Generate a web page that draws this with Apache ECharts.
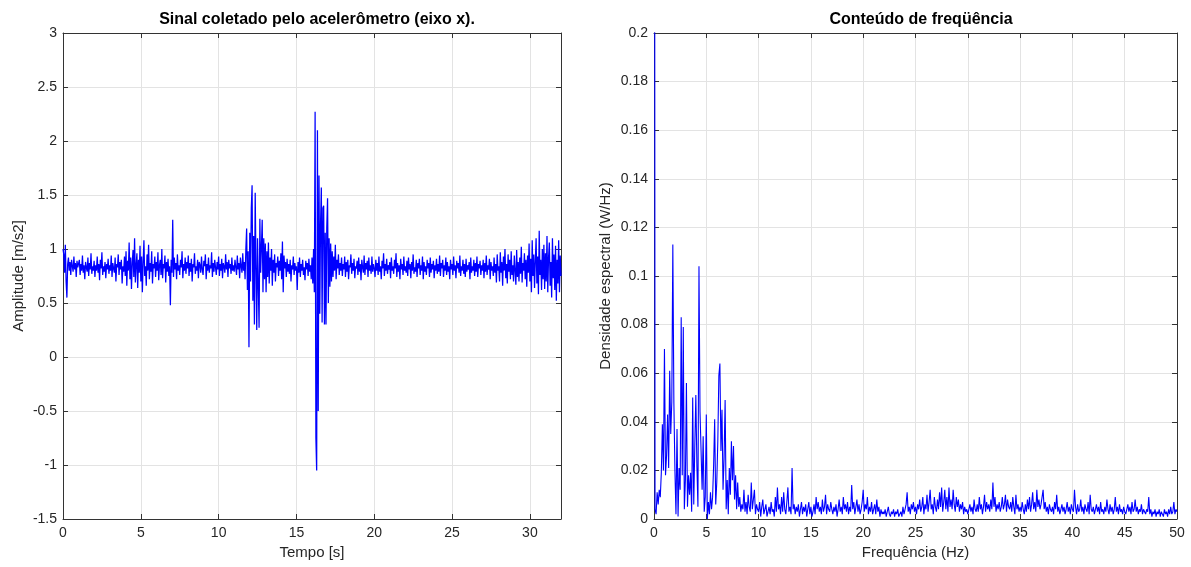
<!DOCTYPE html>
<html>
<head>
<meta charset="utf-8">
<script src="https://cdn.jsdelivr.net/npm/echarts@6/dist/echarts.min.js"></script>
<style>html,body{margin:0;padding:0;background:#fff}#c{width:1191px;height:567px}</style>
</head>
<body>
<div id="c"></div>
<script>
// Time signal: sampled every 0.05 s, rows = one second each (20 samples)
const timeStep = 0.05;
const timeValues = [
1.0,0.95,0.78,1.04,0.7,0.55,0.86,0.92,0.8,0.88,0.76,0.9,0.84,0.79,0.93,0.81,0.87,0.74,0.89,0.83,
0.82,0.9,0.76,0.86,0.8,0.94,0.78,0.85,0.72,0.88,0.83,0.79,0.92,0.75,0.87,0.81,0.96,0.77,0.84,0.8,
0.89,0.74,0.85,0.8,0.93,0.78,0.86,0.71,0.9,0.82,0.97,0.76,0.84,0.79,0.88,0.73,0.86,0.81,0.91,0.77,
0.85,0.8,0.94,0.74,0.87,0.82,0.78,0.92,0.7,0.86,0.83,0.95,0.76,0.88,0.81,0.9,0.68,0.84,0.79,0.93,
0.75,0.98,0.66,0.89,0.8,1.06,0.72,0.92,0.63,0.87,0.99,0.74,1.1,0.69,0.85,0.96,0.64,0.9,0.78,1.03,
0.7,0.93,0.6,0.88,1.08,0.75,0.84,0.66,0.95,0.8,1.04,0.72,0.87,0.79,0.98,0.68,0.86,0.82,0.93,0.74,
0.88,0.8,0.97,0.71,0.85,0.9,0.76,1.0,0.73,0.86,0.82,0.94,0.69,0.88,0.79,0.91,0.75,0.84,0.48,0.9,
0.78,1.27,0.74,0.92,0.81,0.87,0.72,0.95,0.8,0.85,0.76,0.9,0.83,0.98,0.73,0.86,0.8,0.92,0.77,0.88,
0.82,0.94,0.75,0.87,0.79,0.91,0.7,0.86,0.83,0.96,0.77,0.84,0.8,0.9,0.73,0.88,0.85,0.78,0.93,0.81,
0.76,0.89,0.84,0.95,0.72,0.86,0.8,0.92,0.78,0.85,0.82,0.97,0.74,0.87,0.79,0.9,0.83,0.76,0.88,0.81,
0.93,0.75,0.86,0.8,0.91,0.73,0.87,0.84,0.78,0.95,0.81,0.88,0.74,0.9,0.82,0.86,0.77,0.92,0.8,0.85,
0.79,0.9,0.83,0.76,0.94,0.81,0.87,0.73,0.92,0.84,0.78,0.96,0.8,0.88,0.72,1.0,1.19,0.62,0.98,0.09,
1.15,0.7,1.38,1.59,0.52,1.12,0.3,1.52,0.85,0.25,1.1,0.66,0.27,1.28,0.78,1.02,1.27,0.6,1.1,0.72,
1.05,0.6,0.98,0.74,1.06,0.68,0.92,0.8,1.0,0.66,0.9,0.78,0.95,0.7,0.87,0.83,0.93,0.75,0.89,0.8,
0.96,0.72,1.07,0.6,0.94,0.82,0.88,0.74,0.91,0.79,0.86,0.77,0.9,0.7,0.85,0.81,0.93,0.76,0.87,0.8,
0.84,0.62,0.88,0.78,0.92,0.74,0.86,0.8,0.9,0.76,0.83,0.71,0.89,0.81,0.87,0.75,0.91,0.79,0.85,0.72,
0.92,0.68,1.0,0.6,2.27,-0.75,-1.05,2.1,-0.5,1.68,0.4,1.25,1.57,0.32,1.38,1.4,0.3,1.15,0.3,1.2,
1.47,0.5,1.1,0.65,1.05,0.7,0.98,0.74,0.93,0.8,1.04,0.72,0.9,0.82,0.95,0.76,0.87,0.8,0.92,0.75,
0.86,0.81,0.93,0.74,0.88,0.79,0.9,0.72,0.85,0.83,0.95,0.77,0.87,0.8,0.91,0.73,0.84,0.82,0.89,0.76,
0.92,0.79,0.86,0.71,0.9,0.83,0.78,0.94,0.76,0.87,0.81,0.89,0.74,0.92,0.8,0.85,0.77,0.93,0.79,0.86,
0.82,0.74,0.9,0.8,0.87,0.76,0.93,0.79,0.84,0.72,0.89,0.82,0.96,0.75,0.86,0.8,0.91,0.77,0.85,0.81,
0.88,0.73,0.92,0.8,0.84,0.77,0.9,0.82,0.96,0.74,0.87,0.79,0.85,0.72,0.91,0.81,0.86,0.76,0.93,0.8,
0.84,0.78,0.89,0.75,0.92,0.81,0.86,0.73,0.88,0.8,0.95,0.77,0.83,0.79,0.9,0.74,0.87,0.82,0.91,0.76,
0.85,0.8,0.93,0.72,0.88,0.79,0.84,0.76,0.9,0.82,0.87,0.74,0.92,0.78,0.86,0.81,0.89,0.73,0.85,0.8,
0.91,0.77,0.86,0.79,0.94,0.75,0.87,0.82,0.9,0.74,0.85,0.8,0.92,0.76,0.88,0.79,0.84,0.72,0.9,0.81,
0.86,0.76,0.93,0.8,0.85,0.73,0.89,0.82,0.87,0.78,0.94,0.75,0.84,0.8,0.9,0.77,0.86,0.74,0.91,0.79,
0.85,0.81,0.88,0.72,0.92,0.78,0.84,0.8,0.9,0.75,0.87,0.79,0.93,0.74,0.86,0.82,0.89,0.76,0.85,0.8,
0.9,0.73,0.87,0.79,0.94,0.76,0.85,0.81,0.91,0.72,0.88,0.8,0.84,0.75,0.92,0.78,0.86,0.69,0.95,0.8,
0.84,0.7,0.97,0.78,0.88,0.66,0.93,0.8,1.0,0.73,0.86,0.68,0.95,0.79,0.9,0.72,0.98,0.76,0.85,0.7,
0.94,0.8,0.67,0.99,0.74,0.88,0.7,0.92,0.77,1.02,0.69,0.87,0.8,0.96,0.72,0.9,0.65,0.94,0.78,1.05,
0.7,0.91,0.6,1.08,0.75,0.95,0.64,0.89,1.1,0.68,0.93,0.58,1.17,0.76,0.9,0.62,1.0,0.72,1.04,0.63,
0.96,0.7,1.12,0.6,0.92,1.06,0.66,0.88,0.55,1.1,0.73,0.95,0.62,1.03,0.52,0.9,0.68,1.08,0.6,0.94,
0.75
];

// Spectrum: sampled every 0.1 Hz, rows = one Hz each (10 samples)
const freqStep = 0.1;
const psdValues = [
0.7,0.004,0.002,0.011,0.006,0.012,0.009,0.019,0.039,0.02,
0.07,0.018,0.026,0.043,0.021,0.061,0.035,0.048,0.113,0.048,
0.02,0.002,0.037,0.001,0.021,0.012,0.083,0.018,0.079,0.004,
0.016,0.056,0.005,0.018,0.01,0.019,0.003,0.05,0.006,0.03,
0.051,0.022,0.005,0.104,0.044,0.028,0.012,0.034,0.003,0.009,
0.043,0.0,0.007,0.002,0.011,0.004,0.009,0.022,0.041,0.006,
0.015,0.032,0.059,0.064,0.028,0.045,0.012,0.025,0.049,0.004,
0.016,0.002,0.021,0.01,0.032,0.016,0.03,0.008,0.018,0.004,
0.015,0.005,0.009,0.003,0.006,0.004,0.012,0.003,0.007,0.002,
0.01,0.005,0.003,0.015,0.004,0.008,0.012,0.002,0.006,0.004,
0.003,0.007,0.001,0.005,0.008,0.002,0.004,0.006,0.001,0.003,
0.005,0.002,0.007,0.003,0.004,0.001,0.009,0.003,0.013,0.004,
0.006,0.002,0.009,0.003,0.011,0.004,0.002,0.007,0.013,0.003,
0.005,0.002,0.021,0.004,0.006,0.002,0.005,0.003,0.006,0.001,
0.004,0.007,0.002,0.005,0.003,0.006,0.001,0.004,0.007,0.002,
0.005,0.001,0.003,0.006,0.002,0.009,0.004,0.007,0.003,0.005,
0.002,0.008,0.003,0.005,0.01,0.002,0.006,0.004,0.003,0.007,
0.004,0.002,0.005,0.003,0.006,0.001,0.004,0.008,0.003,0.005,
0.002,0.009,0.004,0.006,0.003,0.007,0.002,0.005,0.003,0.014,
0.004,0.007,0.002,0.005,0.008,0.003,0.006,0.002,0.004,0.007,
0.012,0.003,0.006,0.004,0.009,0.002,0.005,0.003,0.007,0.002,
0.004,0.006,0.002,0.008,0.003,0.005,0.001,0.004,0.002,0.003,
0.002,0.004,0.001,0.003,0.005,0.002,0.001,0.003,0.002,0.004,
0.001,0.003,0.002,0.004,0.001,0.002,0.003,0.001,0.005,0.002,
0.004,0.006,0.011,0.003,0.005,0.002,0.006,0.004,0.007,0.003,
0.005,0.002,0.006,0.004,0.008,0.003,0.005,0.009,0.002,0.006,
0.004,0.01,0.003,0.007,0.012,0.004,0.006,0.002,0.009,0.005,
0.003,0.008,0.004,0.011,0.005,0.013,0.003,0.007,0.012,0.004,
0.009,0.003,0.013,0.005,0.008,0.004,0.012,0.006,0.003,0.009,
0.005,0.008,0.003,0.006,0.004,0.007,0.002,0.005,0.003,0.004,
0.002,0.004,0.006,0.003,0.005,0.002,0.008,0.004,0.003,0.006,
0.003,0.009,0.004,0.006,0.002,0.005,0.01,0.003,0.007,0.004,
0.006,0.003,0.008,0.004,0.015,0.005,0.009,0.003,0.006,0.004,
0.007,0.003,0.005,0.009,0.004,0.006,0.01,0.003,0.008,0.005,
0.004,0.007,0.003,0.009,0.005,0.002,0.01,0.004,0.006,0.003,
0.005,0.003,0.007,0.004,0.002,0.006,0.003,0.008,0.004,0.009,
0.003,0.006,0.011,0.004,0.007,0.003,0.012,0.005,0.008,0.004,
0.006,0.009,0.012,0.004,0.007,0.003,0.005,0.002,0.006,0.004,
0.003,0.005,0.002,0.007,0.004,0.01,0.003,0.005,0.002,0.004,
0.006,0.003,0.005,0.002,0.004,0.007,0.003,0.005,0.002,0.006,
0.004,0.003,0.012,0.005,0.002,0.006,0.003,0.004,0.008,0.003,
0.005,0.002,0.006,0.004,0.003,0.007,0.002,0.01,0.004,0.003,
0.005,0.002,0.004,0.006,0.003,0.005,0.002,0.007,0.003,0.004,
0.002,0.005,0.003,0.008,0.004,0.002,0.006,0.003,0.005,0.002,
0.004,0.009,0.003,0.005,0.002,0.006,0.003,0.004,0.002,0.005,
0.003,0.002,0.004,0.006,0.003,0.005,0.002,0.007,0.003,0.004,
0.008,0.003,0.005,0.002,0.004,0.003,0.006,0.002,0.004,0.003,
0.002,0.004,0.003,0.009,0.002,0.004,0.001,0.003,0.002,0.004,
0.001,0.003,0.002,0.004,0.001,0.003,0.002,0.001,0.004,0.002,
0.003,0.001,0.004,0.002,0.005,0.002,0.003,0.007,0.002,0.004,
0.003
];

const titles = ['Sinal coletado pelo acelerômetro (eixo x).', 'Conteúdo de freqüência'];
const xNames = ['Tempo [s]', 'Frequência (Hz)'];
const yNames = ['Amplitude [m/s2]', 'Densidade espectral (W/Hz)'];

const timeData = timeValues.map((v, i) => [+(i * timeStep).toFixed(2), v]);
const psdData = psdValues.map((v, i) => [+(i * freqStep).toFixed(1), v]);

const FONT = 'Liberation Sans, Arial, Helvetica, sans-serif';
const AX = '#333333';
const LBL = '#262626';
const GRIDC = '#e3e3e3';

function mainX(grid, min, max, interval, name) {
  return {
    type: 'value', gridIndex: grid, min, max, interval, position: 'bottom',
    name, nameLocation: 'middle', nameGap: 25,
    nameTextStyle: { fontFamily: FONT, fontSize: 15, color: LBL },
    axisLine: { onZero: false, lineStyle: { color: AX, width: 1 } },
    axisTick: { inside: true, length: 5, lineStyle: { color: AX } },
    axisLabel: { fontFamily: FONT, fontSize: 14, color: LBL, margin: 7,
      formatter: v => (Math.abs(v / interval - Math.round(v / interval)) < 1e-6) ? String(v) : '' },
    splitLine: { show: true, lineStyle: { color: GRIDC, width: 1 } }
  };
}
function boxX(grid, min, max, interval) {
  return {
    type: 'value', gridIndex: grid, min, max, interval, position: 'top',
    axisLine: { onZero: false, lineStyle: { color: AX, width: 1 } },
    axisTick: { inside: true, length: 5, lineStyle: { color: AX } },
    axisLabel: { show: false }, splitLine: { show: false }
  };
}
function mainY(grid, min, max, interval, name, gap) {
  return {
    type: 'value', gridIndex: grid, min, max, interval, position: 'left',
    name, nameLocation: 'middle', nameGap: gap,
    nameTextStyle: { fontFamily: FONT, fontSize: 15, color: LBL },
    axisLine: { show: true, onZero: false, lineStyle: { color: AX, width: 1 } },
    axisTick: { show: true, inside: true, length: 5, lineStyle: { color: AX } },
    axisLabel: { fontFamily: FONT, fontSize: 14, color: LBL, margin: 6 },
    splitLine: { show: true, lineStyle: { color: GRIDC, width: 1 } }
  };
}
function boxY(grid, min, max, interval) {
  return {
    type: 'value', gridIndex: grid, min, max, interval, position: 'right',
    axisLine: { show: true, onZero: false, lineStyle: { color: AX, width: 1 } },
    axisTick: { show: true, inside: true, length: 5, lineStyle: { color: AX } },
    axisLabel: { show: false }, splitLine: { show: false }
  };
}

const chart = echarts.init(document.getElementById('c'), null, { renderer: 'canvas' });
chart.setOption({
  backgroundColor: '#ffffff',
  animation: false,
  title: [
    { text: titles[0], left: 312, top: 7, textAlign: 'center',
      textStyle: { fontFamily: FONT, fontSize: 16, fontWeight: 'bold', color: '#000' } },
    { text: titles[1], left: 916, top: 7, textAlign: 'center',
      textStyle: { fontFamily: FONT, fontSize: 16, fontWeight: 'bold', color: '#000' } }
  ],
  grid: [
    { left: 63, right: 630, top: 33, bottom: 48 },
    { left: 654, right: 14, top: 33, bottom: 48 }
  ],
  xAxis: [
    mainX(0, 0, 32, 5, xNames[0]),
    mainX(1, 0, 50, 5, xNames[1]),
    boxX(0, 0, 32, 5),
    boxX(1, 0, 50, 5)
  ],
  yAxis: [
    mainY(0, -1.5, 3, 0.5, yNames[0], 37),
    mainY(1, 0, 0.2, 0.02, yNames[1], 41),
    boxY(0, -1.5, 3, 0.5),
    boxY(1, 0, 0.2, 0.02)
  ],
  series: [
    { type: 'line', xAxisIndex: 0, yAxisIndex: 0, data: timeData, showSymbol: false,
      symbol: 'none', clip: true, lineStyle: { color: '#0000ff', width: 1.25 } },
    { type: 'line', xAxisIndex: 1, yAxisIndex: 1, data: psdData, showSymbol: false,
      symbol: 'none', clip: true, lineStyle: { color: '#0000ff', width: 1.1 } }
  ]
});
</script>
</body>
</html>
